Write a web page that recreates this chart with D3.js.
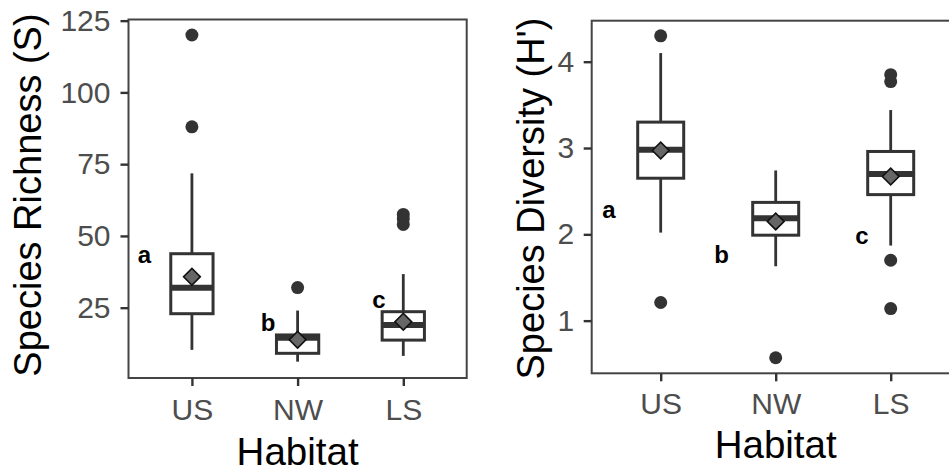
<!DOCTYPE html>
<html><head><meta charset="utf-8">
<script src="https://cdn.jsdelivr.net/npm/d3@7"></script>
<style>body{margin:0;background:#fff} svg{display:block} text{font-family:"Liberation Sans",Arial,sans-serif}</style>
</head><body><svg id="c" width="949" height="475"></svg>
<script>
const categories = ["US", "NW", "LS"];

// Panel 1: Species Richness (S)
const richLowerWhisker = [10.3, 6.2, 8.2];
const richQ1 = [22.9, 9.1, 13.7];
const richMedian = [31.9, 14.5, 19.0];
const richQ3 = [43.8, 15.5, 23.6];
const richUpperWhisker = [71.8, 24.0, 36.7];
const richMean = [35.8, 13.8, 20.1];
const richOutliers = [[120, 88], [32], [57.5, 56, 54]];
const richLetters = ["a", "b", "c"];
const richLetterX = [0.55, 1.72, 2.77];
const richLetterY = [42.7, 19, 27];
const richTicks = [25, 50, 75, 100, 125];

// Panel 2: Species Diversity (H')
const divLowerWhisker = [2.02, 1.63, 1.87];
const divQ1 = [2.65, 1.99, 2.46];
const divMedian = [2.98, 2.185, 2.70];
const divQ3 = [3.30, 2.37, 2.96];
const divUpperWhisker = [4.10, 2.74, 3.44];
const divMean = [2.97, 2.15, 2.67];
const divOutliers = [[4.30, 1.21], [0.57], [3.85, 3.77, 1.70, 1.14]];
const divLetters = ["a", "b", "c"];
const divLetterX = [0.55, 1.53, 2.75];
const divLetterY = [2.27, 1.74, 1.96];
const divTicks = [1, 2, 3, 4];

const svg = d3.select("#c");

function panel(cfg) {
  const x = d3.scaleLinear().domain([0.4, 3.6]).range([cfg.x0, cfg.x1]);
  const y = d3.scaleLinear().domain(cfg.yDomain).range([cfg.yBot, cfg.yTop]);
  const g = svg.append("g");
  const step = x(2) - x(1);
  const bw = 0.4 * step;
  const rows = categories.map((c, i) => ({
    c, i, pos: i + 1,
    lw: cfg.lw[i], q1: cfg.q1[i], med: cfg.med[i], q3: cfg.q3[i], uw: cfg.uw[i],
    mean: cfg.mean[i], out: cfg.out[i]
  }));
  const col = "#333333";
  g.selectAll(".wu").data(rows).join("line")
    .attr("x1", d => x(d.pos)).attr("x2", d => x(d.pos))
    .attr("y1", d => y(d.q3)).attr("y2", d => y(d.uw))
    .attr("stroke", col).attr("stroke-width", 2.8);
  g.selectAll(".wl").data(rows).join("line")
    .attr("x1", d => x(d.pos)).attr("x2", d => x(d.pos))
    .attr("y1", d => y(d.q1)).attr("y2", d => y(d.lw))
    .attr("stroke", col).attr("stroke-width", 2.8);
  g.selectAll(".bx").data(rows).join("rect")
    .attr("x", d => x(d.pos) - bw / 2).attr("width", bw)
    .attr("y", d => y(d.q3)).attr("height", d => y(d.q1) - y(d.q3))
    .attr("fill", "#fff").attr("stroke", col).attr("stroke-width", 3);
  g.selectAll(".md").data(rows).join("line")
    .attr("x1", d => x(d.pos) - bw / 2).attr("x2", d => x(d.pos) + bw / 2)
    .attr("y1", d => y(d.med)).attr("y2", d => y(d.med))
    .attr("stroke", col).attr("stroke-width", 6);
  const outs = rows.flatMap(d => d.out.map(v => ({ pos: d.pos, v })));
  g.selectAll(".ot").data(outs).join("circle")
    .attr("cx", d => x(d.pos)).attr("cy", d => y(d.v)).attr("r", 6.5)
    .attr("fill", col);
  const sym = d3.symbol().type(d3.symbolSquare).size(140);
  g.selectAll(".mn").data(rows).join("path")
    .attr("d", sym)
    .attr("transform", d => `translate(${x(d.pos)},${y(d.mean)}) rotate(45)`)
    .attr("fill", "#666666").attr("stroke", "#111").attr("stroke-width", 1.6);
  g.selectAll(".lt").data(cfg.letters.map((t, i) => ({ t, lx: cfg.letterX[i], ly: cfg.letterY[i] }))).join("text")
    .attr("x", d => x(d.lx)).attr("y", d => y(d.ly)).attr("dy", "0.27em")
    .attr("text-anchor", "middle").attr("font-weight", "bold").attr("font-size", 24)
    .attr("fill", "#000").text(d => d.t);
  g.append("rect").attr("x", cfg.x0).attr("y", cfg.yTop)
    .attr("width", cfg.x1 - cfg.x0).attr("height", cfg.yBot - cfg.yTop)
    .attr("fill", "none").attr("stroke", "#444").attr("stroke-width", 2);
  const ax = g.append("g").attr("transform", `translate(0,${cfg.yBot})`)
    .call(d3.axisBottom(x).tickValues([1, 2, 3]).tickFormat(d => categories[d - 1])
      .tickSize(8).tickPadding(cfg.xPad));
  const ay = g.append("g").attr("transform", `translate(${cfg.x0},0)`)
    .call(d3.axisLeft(y).tickValues(cfg.ticks).tickFormat(d3.format("d")).tickSize(8).tickPadding(cfg.yPad));
  [ax, ay].forEach(a => {
    a.select(".domain").remove();
    a.selectAll(".tick line").attr("stroke", col).attr("stroke-width", 2.4);
    a.selectAll(".tick text").attr("fill", "#4d4d4d").attr("font-size", 30)
      .attr("font-family", '"Liberation Sans",Arial,sans-serif');
  });
  g.append("text").attr("x", (cfg.x0 + cfg.x1) / 2).attr("y", cfg.xTitleY)
    .attr("text-anchor", "middle").attr("font-size", 38.5).attr("fill", "#000").text("Habitat");
  g.append("text").attr("transform", `translate(${cfg.yTitleX},${cfg.yTitleCY}) rotate(-90)`)
    .attr("text-anchor", "middle").attr("font-size", 38).attr("fill", "#000").text(cfg.yTitle);
}

panel({
  x0: 128.5, x1: 466.7, yTop: 19.5, yBot: 378, yDomain: [0.5, 125.4],
  lw: richLowerWhisker, q1: richQ1, med: richMedian, q3: richQ3, uw: richUpperWhisker,
  mean: richMean, out: richOutliers, letters: richLetters, letterX: richLetterX, letterY: richLetterY,
  ticks: richTicks, xPad: 13, yPad: 10, xTitleY: 465, yTitleX: 41, yTitleCY: 195,
  yTitle: "Species Richness (S)"
});
panel({
  x0: 591.7, x1: 959.7, yTop: 20.7, yBot: 373.3, yDomain: [0.39, 4.475],
  lw: divLowerWhisker, q1: divQ1, med: divMedian, q3: divQ3, uw: divUpperWhisker,
  mean: divMean, out: divOutliers, letters: divLetters, letterX: divLetterX, letterY: divLetterY,
  ticks: divTicks, xPad: 11, yPad: 9.5, xTitleY: 458.3, yTitleX: 544, yTitleCY: 198.5,
  yTitle: "Species Diversity (H')"
});
</script></body></html>
